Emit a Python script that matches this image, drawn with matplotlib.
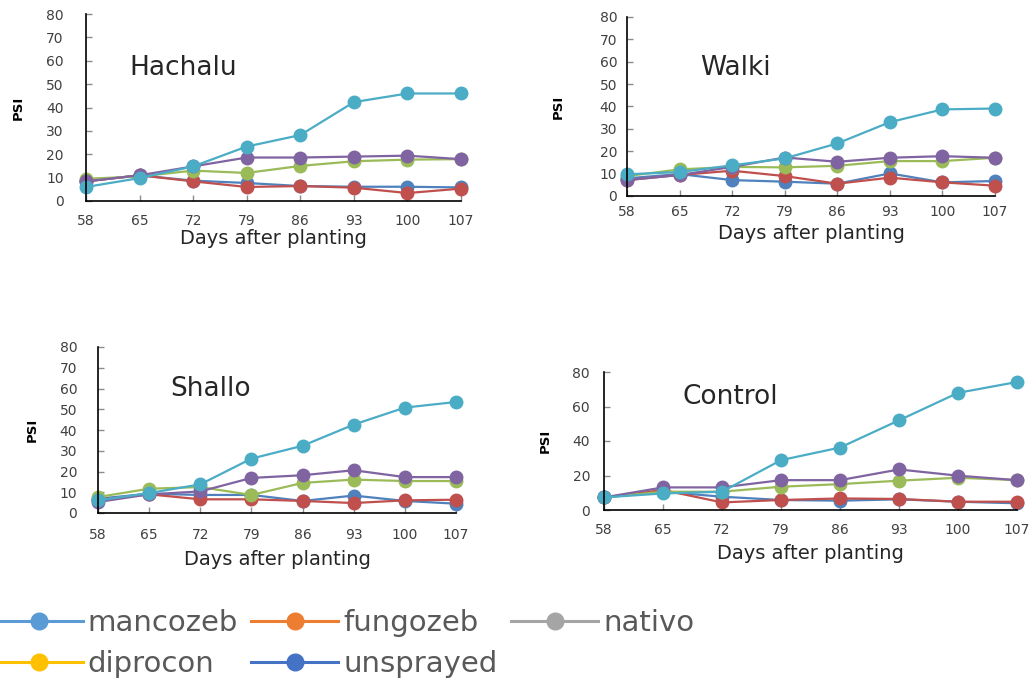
import matplotlib
matplotlib.use("Agg")
import matplotlib.pyplot as plt
from matplotlib.lines import Line2D

days = [58, 65, 72, 79, 86, 93, 100, 107]
treatments = ["mancozeb", "fungozeb", "nativo", "diprocon", "unsprayed"]

# values (PSI)
hachalu = {
    "mancozeb": [8.4, 11.0, 8.7, 7.7, 6.4, 6.1, 6.1, 5.8],
    "fungozeb": [8.4, 11.0, 8.4, 6.0, 6.4, 5.7, 3.4, 5.3],
    "nativo": [9.5, 10.5, 13.0, 12.0, 15.0, 17.0, 17.7, 17.9],
    "diprocon": [8.4, 11.0, 14.8, 18.6, 18.6, 19.0, 19.4, 17.9],
    "unsprayed": [6.0, 9.8, 14.8, 23.3, 28.2, 42.3, 46.0, 46.0],
}
walki = {
    "mancozeb": [7.9, 9.8, 7.1, 6.4, 5.5, 10.1, 6.1, 6.7],
    "fungozeb": [7.1, 9.4, 11.3, 8.9, 5.5, 8.2, 6.1, 4.6],
    "nativo": [8.9, 11.9, 13.0, 12.8, 13.5, 15.6, 15.6, 17.1],
    "diprocon": [7.1, 9.4, 13.0, 17.2, 15.3, 17.1, 17.8, 17.1],
    "unsprayed": [9.7, 10.7, 13.7, 16.8, 23.5, 33.0, 38.7, 39.1],
}
shallo = {
    "mancozeb": [6.9, 9.3, 8.7, 8.7, 5.8, 8.4, 5.8, 4.5],
    "fungozeb": [6.4, 9.0, 6.6, 6.6, 5.8, 4.8, 6.1, 6.4],
    "nativo": [7.7, 11.7, 12.5, 8.7, 14.5, 16.1, 15.4, 15.4],
    "diprocon": [5.3, 9.0, 10.4, 16.9, 18.2, 20.6, 17.3, 17.3],
    "unsprayed": [6.1, 9.6, 13.8, 26.2, 32.4, 42.6, 50.8, 53.5],
}
control = {
    "mancozeb": [7.3, 10.6, 7.7, 5.8, 5.4, 6.2, 4.8, 3.9],
    "fungozeb": [7.3, 11.6, 4.4, 5.8, 6.7, 6.4, 4.8, 4.8],
    "nativo": [7.3, 10.6, 10.6, 13.5, 15.0, 17.0, 18.7, 17.3],
    "diprocon": [7.3, 13.1, 13.1, 17.3, 17.3, 23.5, 19.9, 17.3],
    "unsprayed": [7.3, 9.6, 10.6, 28.9, 36.2, 52.0, 67.9, 74.2],
}

# panel line colours (office 2007) and legend colours (office 2013), as in the source
line_colors = ["#4F81BD", "#C0504D", "#9BBB59", "#8064A2", "#4BACC6"]
legend_colors = ["#5B9BD5", "#ED7D31", "#A5A5A5", "#FFC000", "#4472C4"]

W, H = 1036, 685
TEXT = "#404040"


def px_axes(fig, left, right, top, bottom):
    return fig.add_axes([left / W, 1 - bottom / H, (right - left) / W, (bottom - top) / H])


def draw_panel(ax, site, values, yticks, title_xy, ylab_x, xlab_y, ypad, xpad):
    for name, color in zip(treatments, line_colors):
        ax.plot(days, values[name], color=color, lw=1.6, marker="o", ms=9,
                mec=color, mfc=color, clip_on=False)

    ax.set_xlim(58, 107)
    ax.set_ylim(0, 80)
    ax.set_xticks(days)
    ax.set_yticks(yticks)
    for side in ["top", "right"]:
        ax.spines[side].set_visible(False)
    for side in ["left", "bottom"]:
        ax.spines[side].set_color("black")
        ax.spines[side].set_linewidth(1.2)
    ax.tick_params(labelsize=10, labelcolor=TEXT, direction="in", length=4,
                   width=1, color="#8c8c8c")
    ax.tick_params(axis="y", pad=ypad)
    ax.tick_params(axis="x", pad=xpad)

    ax.text(title_xy[0], title_xy[1], site, transform=ax.transAxes, fontsize=19,
            color="#262626", va="center", ha="left")
    ax.set_ylabel("PSI", fontsize=9.5, fontweight="bold", color="black", va="center")
    ax.yaxis.set_label_coords(ylab_x, 0.5)
    ax.set_xlabel("Days after planting", fontsize=14, color="#262626", va="center")
    ax.xaxis.set_label_coords(0.5, xlab_y)


def main():
    fig = plt.figure(figsize=(W / 100, H / 100), dpi=100)

    ax1 = px_axes(fig, 86, 461, 14, 201)
    draw_panel(ax1, "Hachalu", hachalu, range(0, 81, 10), (0.117, 0.711), -0.181, -0.198, 16, 9.5)

    ax2 = px_axes(fig, 627, 995, 17, 196)
    draw_panel(ax2, "Walki", walki, range(0, 81, 10), (0.198, 0.715), -0.1875, -0.208, 7, 6.5)

    ax3 = px_axes(fig, 98, 456, 347, 513)
    draw_panel(ax3, "Shallo", shallo, range(0, 81, 10), (0.201, 0.747), -0.184, -0.283, 15, 10.5)

    ax4 = px_axes(fig, 604, 1017, 372, 510)
    draw_panel(ax4, "Control", control, range(0, 81, 20), (0.189, 0.819), -0.143, -0.312, 10, 9)

    handles = [Line2D([], [], color=c, lw=2.2, marker="o", ms=12) for c in legend_colors]
    # ncol=3 fills column-wise, so reorder to get the source's row layout
    order = [0, 3, 1, 4, 2]
    leg = fig.legend([handles[i] for i in order], [treatments[i] for i in order],
                     loc="upper left", bbox_to_anchor=(-5 / W, 1 - 609 / H), ncol=3,
                     frameon=False, fontsize=21, handlelength=3.0, handletextpad=0.17,
                     columnspacing=0.45, labelspacing=0.45, borderpad=0, borderaxespad=0)
    for t in leg.get_texts():
        t.set_color("#595959")

    fig.savefig("out.png", dpi=100)
    plt.close(fig)


if __name__ == "__main__":
    main()
